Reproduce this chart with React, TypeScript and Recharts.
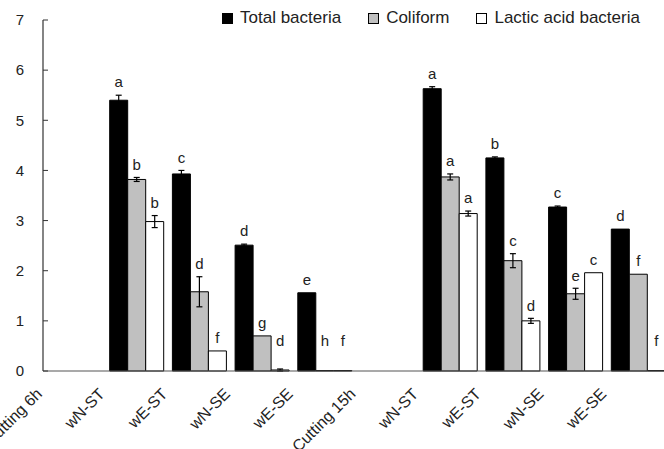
import React from 'react';
import { BarChart, Bar, XAxis, YAxis, ErrorBar, LabelList, Legend } from 'recharts';

// Categories along the x axis (sampling points / treatments)
const categories = [
  'Cutting 6h', 'wN-ST', 'wE-ST', 'wN-SE', 'wE-SE',
  'Cutting 15h', 'wN-ST', 'wE-ST', 'wN-SE', 'wE-SE',
];

// log CFU values per series, with standard errors and significance letters
const totalBacteria = [null, 5.4, 3.93, 2.51, 1.56, null, 5.63, 4.25, 3.27, 2.83];
const totalErr = [null, 0.1, 0.07, 0.02, 0, null, 0.04, 0.02, 0.02, 0];
const totalLetters = ['', 'a', 'c', 'd', 'e', '', 'a', 'b', 'c', 'd'];

const coliform = [null, 3.82, 1.58, 0.7, 0, null, 3.87, 2.2, 1.54, 1.93];
const coliformErr = [null, 0.04, 0.3, 0, 0, null, 0.06, 0.14, 0.11, 0];
const coliformLetters = ['', 'b', 'd', 'g', 'h', '', 'a', 'c', 'e', 'f'];

const lacticAcid = [null, 2.98, 0.4, 0.02, 0, null, 3.14, 1.0, 1.96, 0];
const lacticAcidErr = [null, 0.12, 0, 0.02, 0, null, 0.05, 0.05, 0, 0];
const lacticAcidLetters = ['', 'b', 'f', 'd', 'f', '', 'a', 'd', 'c', 'f'];

const yTicks = [0, 1, 2, 3, 4, 5, 6, 7];

const seriesNames = ['Total bacteria', 'Coliform', 'Lactic acid bacteria'];
const seriesFills: Record<string, string> = {
  'Total bacteria': '#000000',
  Coliform: '#c0c0c0',
  'Lactic acid bacteria': '#ffffff',
};

const data = categories.map((name, i) => ({
  name,
  total: totalBacteria[i],
  totalErr: totalErr[i],
  totalLetter: totalLetters[i],
  coliform: coliform[i],
  coliformErr: coliformErr[i],
  coliformLetter: coliformLetters[i],
  lab: lacticAcid[i],
  labErr: lacticAcidErr[i],
  labLetter: lacticAcidLetters[i],
}));

const TEXT = '#222222';

// Rotated category label, anchored at the left edge of its band
function CategoryTick(props: any) {
  const { x, y, payload } = props;
  const left = x - (payload?.offset ?? 0);
  return (
    <g transform={`translate(${left},${y})`}>
      <text x={0} y={0} textAnchor="end" fontSize={16} fill={TEXT} transform="rotate(-45)">
        {payload.value}
      </text>
    </g>
  );
}

type LetterInfo = { v: number | null; err: number | null; letter: string };

// Picks value, error and letter of one series for the label list
const letterKey = (valueKey: string, errKey: string, letterKey: string) => (d: any): LetterInfo => ({
  v: d[valueKey],
  err: d[errKey],
  letter: d[letterKey],
});

// Significance letter drawn above each bar (and its error bar)
function LetterLabel(props: any) {
  const vb = props.viewBox ?? props;
  const x = vb.x ?? props.x;
  const y = vb.y ?? props.y;
  const width = vb.width ?? props.width;
  const height = vb.height ?? props.height ?? 0;
  const info: LetterInfo | undefined = props.value;
  if (!info || !info.letter || info.v == null) return null;
  const top = Math.min(y, y + height);
  const h = Math.abs(height);
  const base = top + h;
  const errPx = info.v > 0 ? ((info.err ?? 0) * h) / info.v : 0;
  const cy = Math.min(top - errPx - 13, base - 30);
  return (
    <text x={x + width / 2} y={cy} dy="0.35em" textAnchor="middle" fontSize={15} fill={TEXT}>
      {info.letter}
    </text>
  );
}

function LegendContent(props: any) {
  const payload = [...(props.payload ?? [])].sort(
    (a: any, b: any) => seriesNames.indexOf(a.value) - seriesNames.indexOf(b.value)
  );
  return (
    <div style={{ display: 'flex', alignItems: 'center', fontSize: 17, color: TEXT, lineHeight: '20px' }}>
      {payload.map((e: any) => (
        <div key={e.value} style={{ display: 'flex', alignItems: 'center', marginRight: 27 }}>
          <span
            style={{
              display: 'inline-block',
              width: 11,
              height: 11,
              background: seriesFills[e.value],
              border: '1px solid #000',
              boxSizing: 'border-box',
              marginRight: 7,
            }}
          />
          <span style={{ whiteSpace: 'nowrap' }}>{e.value}</span>
        </div>
      ))}
    </div>
  );
}

export default function App() {
  return (
    <div
      style={{
        position: 'absolute',
        left: 0,
        top: 0,
        width: 664,
        height: 449,
        overflow: 'hidden',
        background: '#ffffff',
        fontFamily: '"Liberation Sans", Arial, sans-serif',
      }}
    >
      <BarChart
        width={675}
        height={449}
        data={data}
        margin={{ top: 20, right: 5, bottom: 8, left: 0 }}
        barCategoryGap={4}
        barGap={0}
      >
        <XAxis
          dataKey="name"
          height={70}
          interval={0}
          tickLine={false}
          tickSize={0}
          tickMargin={24}
          tick={<CategoryTick />}
          axisLine={{ stroke: '#555555', strokeWidth: 1.2 }}
        />
        <YAxis
          width={43}
          domain={[0, 7]}
          ticks={yTicks}
          interval={0}
          tickSize={-5}
          tickMargin={24}
          axisLine={{ stroke: '#333333', strokeWidth: 1.2 }}
          tickLine={{ stroke: '#333333' }}
          tick={{ fontSize: 15, fill: TEXT }}
        />
        <Legend
          layout="horizontal"
          verticalAlign="middle"
          align="center"
          wrapperStyle={{ position: 'absolute', top: 8, left: 222, width: 'auto', height: 'auto' }}
          content={LegendContent}
        />
        <Bar
          dataKey="total"
          name="Total bacteria"
          fill={seriesFills['Total bacteria']}
          stroke="#000000"
          strokeWidth={1}
          minPointSize={0.5}
          isAnimationActive={false}
        >
          <ErrorBar dataKey="totalErr" width={3} stroke="#000000" strokeWidth={1.2} />
          <LabelList dataKey={letterKey('total', 'totalErr', 'totalLetter')} content={LetterLabel} />
        </Bar>
        <Bar
          dataKey="coliform"
          name="Coliform"
          fill={seriesFills['Coliform']}
          stroke="#000000"
          strokeWidth={1}
          minPointSize={0.5}
          isAnimationActive={false}
        >
          <ErrorBar dataKey="coliformErr" width={3} stroke="#000000" strokeWidth={1.2} />
          <LabelList dataKey={letterKey('coliform', 'coliformErr', 'coliformLetter')} content={LetterLabel} />
        </Bar>
        <Bar
          dataKey="lab"
          name="Lactic acid bacteria"
          fill={seriesFills['Lactic acid bacteria']}
          stroke="#000000"
          strokeWidth={1}
          minPointSize={0.5}
          isAnimationActive={false}
        >
          <ErrorBar dataKey="labErr" width={3} stroke="#000000" strokeWidth={1.2} />
          <LabelList dataKey={letterKey('lab', 'labErr', 'labLetter')} content={LetterLabel} />
        </Bar>
      </BarChart>
    </div>
  );
}
